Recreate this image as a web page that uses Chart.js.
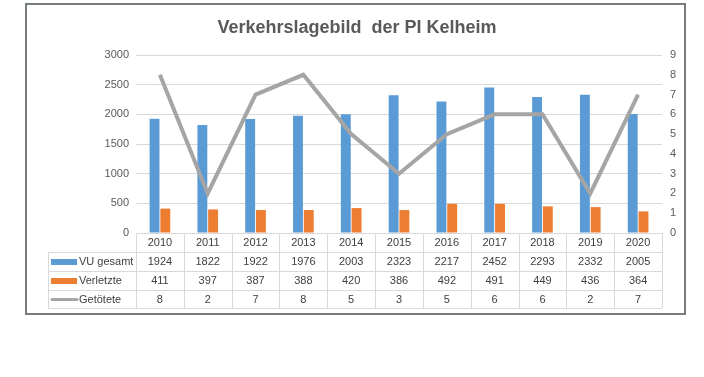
<!DOCTYPE html>
<html>
<head>
<meta charset="utf-8">
<script src="https://cdn.jsdelivr.net/npm/chart.js@4"></script>
<style>
  body { margin: 0; background: #fff; }
  #chart { display: block; }
</style>
</head>
<body>
<canvas id="chart" width="704" height="377"></canvas>
<script>
const years = ['2010', '2011', '2012', '2013', '2014', '2015', '2016', '2017', '2018', '2019', '2020'];
const vuGesamt = [1924, 1822, 1922, 1976, 2003, 2323, 2217, 2452, 2293, 2332, 2005];
const verletzte = [411, 397, 387, 388, 420, 386, 492, 491, 449, 436, 364];
const getoetete = [8, 2, 7, 8, 5, 3, 5, 6, 6, 2, 7];
const leftTicks = [0, 500, 1000, 1500, 2000, 2500, 3000];
const rightTicks = [0, 1, 2, 3, 4, 5, 6, 7, 8, 9];

const FONT = '"Liberation Sans", Arial, sans-serif';
const TEXT = '#595959';
const LINE = '#d9d9d9';

// frame, title and the data table below the plot
const tablePlugin = {
    id: 'tablePlugin',
    beforeDraw(chart) {
        const ctx = chart.ctx;
        ctx.save();
        ctx.strokeStyle = '#777d77';
        ctx.lineWidth = 2;
        ctx.strokeRect(26, 4, 659, 310);
        ctx.fillStyle = TEXT;
        ctx.font = 'bold 18px ' + FONT;
        ctx.textAlign = 'center';
        ctx.textBaseline = 'middle';
        ctx.fillText('Verkehrslagebild  der PI Kelheim', 357, 28);
        ctx.restore();
    },
    afterDraw(chart) {
        const ctx = chart.ctx;
        const x = chart.scales.x;
        const area = chart.chartArea;
        const colW = (area.right - area.left) / years.length;
        const rowY = [area.bottom, 252, 271, 290, 308];
        const labelLeft = 48;
        ctx.save();
        ctx.strokeStyle = LINE;
        ctx.lineWidth = 1;
        ctx.beginPath();
        ctx.moveTo(area.left, rowY[0] + 0.5);
        ctx.lineTo(area.right, rowY[0] + 0.5);
        for (let r = 1; r < rowY.length; r++) {
            ctx.moveTo(labelLeft, rowY[r] + 0.5);
            ctx.lineTo(area.right, rowY[r] + 0.5);
        }
        for (let i = 0; i <= years.length; i++) {
            const bx = Math.round(area.left + i * colW) + 0.5;
            ctx.moveTo(bx, rowY[0]);
            ctx.lineTo(bx, rowY[4]);
        }
        ctx.moveTo(labelLeft + 0.5, rowY[1]);
        ctx.lineTo(labelLeft + 0.5, rowY[4]);
        ctx.stroke();

        ctx.fillStyle = '#404040';
        ctx.font = '11px ' + FONT;
        ctx.textAlign = 'center';
        ctx.textBaseline = 'middle';
        const rows = [years, vuGesamt, verletzte, getoetete];
        rows.forEach((vals, r) => {
            const cy = (rowY[r] + rowY[r + 1]) / 2 + 0.5;
            vals.forEach((v, i) => {
                ctx.fillText(String(v), x.getPixelForValue(i), cy);
            });
        });

        // legend keys
        const names = ['VU gesamt', 'Verletzte', 'Getötete'];
        ctx.textAlign = 'left';
        names.forEach((n, k) => {
            const cy = (rowY[k + 1] + rowY[k + 2]) / 2 + 0.5;
            if (k < 2) {
                ctx.fillStyle = k === 0 ? '#5b9bd5' : '#ed7d31';
                ctx.fillRect(51, cy - 3, 26, 6);
            } else {
                ctx.strokeStyle = '#a5a5a5';
                ctx.lineWidth = 3;
                ctx.lineCap = 'round';
                ctx.beginPath();
                ctx.moveTo(52, cy);
                ctx.lineTo(77, cy);
                ctx.stroke();
            }
            ctx.fillStyle = '#404040';
            ctx.fillText(n, 79, cy);
        });
        ctx.restore();
    }
};

const ctx = document.getElementById('chart').getContext('2d');
const config = {
    type: 'bar',
    data: {
        labels: years,
        datasets: [
            {
                type: 'line',
                label: 'Getötete',
                data: getoetete,
                yAxisID: 'y1',
                borderColor: '#a5a5a5',
                borderWidth: 4,
                pointRadius: 0,
                tension: 0,
                order: 0
            },
            {
                label: 'VU gesamt',
                data: vuGesamt,
                backgroundColor: '#5b9bd5',
                yAxisID: 'y',
                order: 1
            },
            {
                label: 'Verletzte',
                data: verletzte,
                backgroundColor: '#ed7d31',
                yAxisID: 'y',
                order: 2
            }
        ]
    },
    options: {
        responsive: false,
        animation: false,
        layout: { padding: { top: 55, left: 0, right: 0, bottom: 0 } },
        datasets: {
            bar: { categoryPercentage: 0.45, barPercentage: 0.92 }
        },
        plugins: {
            legend: { display: false },
            tooltip: { enabled: false }
        },
        scales: {
            x: {
                offset: true,
                grid: { display: false },
                border: { display: false },
                ticks: { display: false },
                afterFit: s => { s.height = 377 - 233; }
            },
            y: {
                position: 'left',
                min: 0,
                max: 3000,
                afterBuildTicks: s => { s.ticks = leftTicks.map(v => ({ value: v })); },
                grid: { color: LINE, drawTicks: false },
                border: { display: false },
                ticks: {
                    color: TEXT,
                    font: { family: FONT, size: 11 },
                    padding: 7,
                    callback: v => String(v)
                },
                afterFit: s => { s.width = 136; }
            },
            y1: {
                position: 'right',
                min: 0,
                max: 9,
                afterBuildTicks: s => { s.ticks = rightTicks.map(v => ({ value: v })); },
                grid: { display: false, drawTicks: false },
                border: { display: false },
                ticks: {
                    color: TEXT,
                    font: { family: FONT, size: 11 },
                    padding: 8,
                    callback: v => String(v)
                },
                afterFit: s => { s.width = 704 - 662; }
            }
        }
    },
    plugins: [tablePlugin]
};

const kelheimChart = new Chart(ctx, config);
</script>
</body>
</html>
